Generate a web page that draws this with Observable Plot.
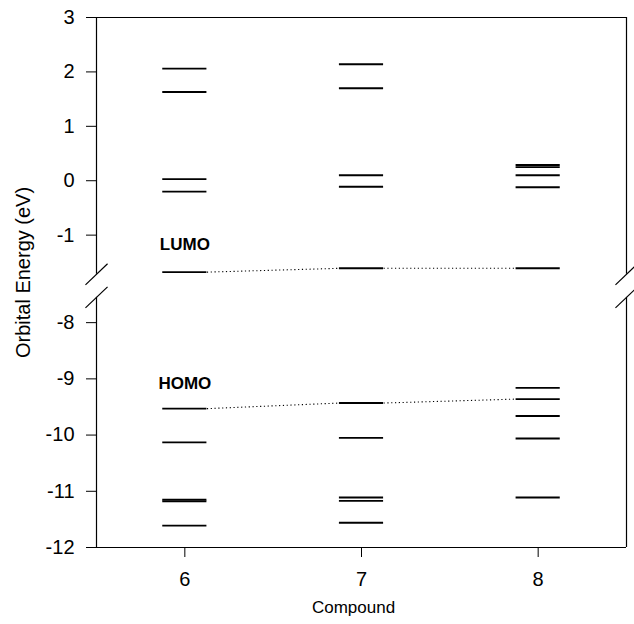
<!DOCTYPE html>
<html><head><meta charset="utf-8">
<script src="https://cdn.jsdelivr.net/npm/d3@7"></script>
<script src="https://cdn.jsdelivr.net/npm/@observablehq/plot@0.6"></script>
<style>body{margin:0;background:#fff}</style>
</head><body><div id="chart"></div>
<script>
// ---- data ----
const compounds = [6, 7, 8];
const levels6 = [2.06, 1.63, 0.03, -0.20, -1.68, -9.53, -10.13, -11.15, -11.18, -11.61];
const levels7 = [2.14, 1.70, 0.10, -0.11, -1.61, -9.43, -10.05, -11.11, -11.17, -11.56];
const levels8 = [0.29, 0.25, 0.10, -0.12, -1.61, -9.16, -9.36, -9.66, -10.06, -11.11];
const lumo = [-1.68, -1.61, -1.61];
const homo = [-9.53, -9.43, -9.36];
const yTicksUpper = [3, 2, 1, 0, -1];
const yTicksLower = [-8, -9, -10, -11, -12];
const upperRange = [-1.72, 3];
const lowerRange = [-12, -7.55];

// ---- broken-axis mapping (upper and lower panels) ----
const UPPER_PX = 54.3, LOWER_PX = 56.1, GAP_PX = 23;
function ty(v) {
  const upperBottom = (upperRange[0] - upperRange[1]) * UPPER_PX;
  return v >= (upperRange[0] + lowerRange[1]) / 2
    ? (v - upperRange[1]) * UPPER_PX
    : upperBottom - GAP_PX - (lowerRange[1] - v) * LOWER_PX;
}
const tickVals = [...yTicksUpper, ...yTicksLower];
const tickLabel = new Map(tickVals.map(v => [ty(v), String(v)]));

const levelSets = [levels6, levels7, levels8];
const levels = compounds.flatMap((c, i) => levelSets[i].map(e => ({c, e})));
const HW = 0.125; // half-width of a level bar in compound units
const connectors = (arr) => compounds.slice(0, -1).map((c, i) => ({
  x1: c + HW, y1: ty(arr[i]), x2: compounds[i + 1] - HW, y2: ty(arr[i + 1])
}));
const xDomain = [5.5, 8.5];
const sides = xDomain;
const segs = [[upperRange[1], upperRange[0]], [lowerRange[1], lowerRange[0]]];
const frameSegs = sides.flatMap(x => segs.map(([a, b]) => ({x, y1: ty(a), y2: ty(b)})));
const breaks = sides.flatMap(x => [upperRange[0], lowerRange[1]].map(v => ({x, y: ty(v)})));
const SX = 0.0625, SY = 10.5;

const chart = Plot.plot({
  width: 634, height: 624,
  marginLeft: 96, marginRight: 8, marginTop: 17, marginBottom: 77,
  style: {fontFamily: "'Liberation Sans', Arial, Helvetica, sans-serif", fontSize: "20px", background: "#fff", color: "#000"},
  x: {domain: xDomain, ticks: compounds, tickFormat: d => String(d), tickSize: 10, tickPadding: 14, label: null},
  y: {domain: [ty(lowerRange[0]), ty(upperRange[1])], ticks: tickVals.map(ty), tickFormat: d => tickLabel.get(d), tickSize: 10, tickPadding: 12, label: null},
  marks: [
    Plot.ruleY([ty(upperRange[1]), ty(lowerRange[0])], {x1: xDomain[0], x2: xDomain[1], stroke: "#000", strokeWidth: 1.2}),
    Plot.ruleX(frameSegs, {x: "x", y1: "y1", y2: "y2", stroke: "#000", strokeWidth: 1.2}),
    Plot.link(breaks, {x1: d => d.x - SX, y1: d => d.y - SY, x2: d => d.x + SX, y2: d => d.y + SY, stroke: "#000", strokeWidth: 1.2}),
    Plot.ruleY(levels, {y: d => ty(d.e), x1: d => d.c - HW, x2: d => d.c + HW, stroke: "#000", strokeWidth: 1.9}),
    Plot.link([...connectors(lumo), ...connectors(homo)], {x1: "x1", y1: "y1", x2: "x2", y2: "y2", stroke: "#000", strokeWidth: 1.1, strokeDasharray: "1.2,2.6"}),
    Plot.text(["LUMO"], {x: compounds[0], y: ty(lumo[0]), dy: -28, text: d => d, fontWeight: "bold", fontSize: 17}),
    Plot.text(["HOMO"], {x: compounds[0], y: ty(homo[0]), dy: -25, text: d => d, fontWeight: "bold", fontSize: 17}),
    Plot.text(["Compound"], {frameAnchor: "bottom", dy: 65, dx: -8, text: d => d, fontSize: 17}),
    Plot.text(["Orbital Energy (eV)"], {frameAnchor: "left", textAnchor: "middle", dx: -73, dy: -10, rotate: -90, text: d => d, fontSize: 20})
  ]
});
document.getElementById("chart").appendChild(chart);
</script>
</body></html>
